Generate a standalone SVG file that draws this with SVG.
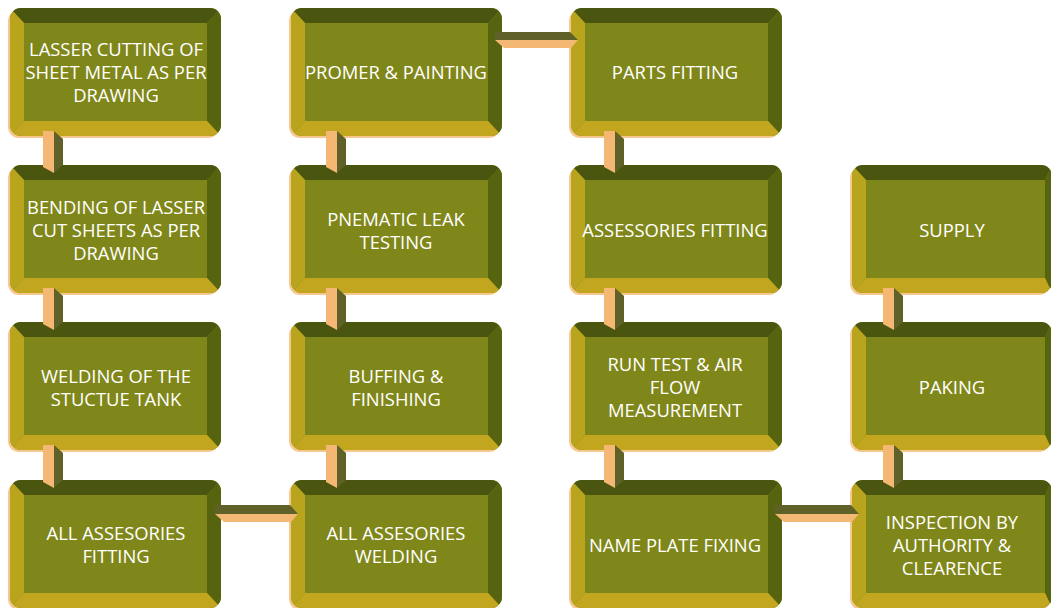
<svg xmlns="http://www.w3.org/2000/svg" xmlns:xlink="http://www.w3.org/1999/xlink" width="1051" height="608" viewBox="0 0 1051 608">
<defs>
<style>
.t{font-family:"Open Sans","Liberation Sans",Arial,sans-serif;font-size:18.4px;fill:#ffffff;text-anchor:middle}
.pe{fill:#f4b874}
.dk{fill:#5f6128}
</style>
<clipPath id="cp"><rect x="0" y="0" width="211" height="128" rx="11"/></clipPath>
<clipPath id="cp4"><rect x="0" y="0" width="200" height="128" rx="11"/></clipPath>
<g id="box">
<rect x="-2" y="2" width="211" height="128" rx="11" fill="#f6c890"/>
<g clip-path="url(#cp)">
<rect x="0" y="0" width="211" height="128" fill="#80871a"/>
<polygon points="0,0 211,0 197,15 14,15" fill="#4a560f"/>
<polygon points="211,0 211,128 197,113 197,15" fill="#56640f"/>
<polygon points="0,128 211,128 197,113 14,113" fill="#c3a61f"/>
<polygon points="0,0 14,15 14,113 0,128" fill="#b9a51d"/>
<rect x="14" y="15" width="183" height="98" fill="#80871a"/>
</g>
</g>
<g id="box4">
<rect x="-2" y="2" width="200" height="128" rx="11" fill="#f6c890"/>
<g clip-path="url(#cp4)">
<rect x="0" y="0" width="200" height="128" fill="#80871a"/>
<polygon points="0,0 200,0 193,15 14,15" fill="#4a560f"/>
<polygon points="200,0 200,128 193,113 193,15" fill="#56640f"/>
<polygon points="0,128 200,128 193,113 14,113" fill="#c3a61f"/>
<polygon points="0,0 14,15 14,113 0,128" fill="#b9a51d"/>
<rect x="14" y="15" width="179" height="98" fill="#80871a"/>
</g>
</g>
</defs>
<rect width="1051" height="608" fill="#ffffff"/>

<g id="n1"><use xlink:href="#box" x="10" y="8"/><text class="t"><tspan x="116" y="56">LASSER CUTTING OF</tspan><tspan x="116" y="79">SHEET METAL AS PER</tspan><tspan x="116" y="102">DRAWING</tspan></text></g>
<g id="n2"><use xlink:href="#box" x="10" y="165"/><text class="t"><tspan x="116" y="214">BENDING OF LASSER</tspan><tspan x="116" y="237">CUT SHEETS AS PER</tspan><tspan x="116" y="260">DRAWING</tspan></text></g>
<g id="n3"><use xlink:href="#box" x="10" y="322"/><text class="t"><tspan x="116" y="383">WELDING OF THE</tspan><tspan x="116" y="406">STUCTUE TANK</tspan></text></g>
<g id="n4"><use xlink:href="#box" x="10" y="480"/><text class="t"><tspan x="116" y="540">ALL ASSESORIES</tspan><tspan x="116" y="563">FITTING</tspan></text></g>

<g id="n5"><use xlink:href="#box" x="291" y="480"/><text class="t"><tspan x="396" y="540">ALL ASSESORIES</tspan><tspan x="396" y="563">WELDING</tspan></text></g>
<g id="n6"><use xlink:href="#box" x="291" y="322"/><text class="t"><tspan x="396" y="383">BUFFING &amp;</tspan><tspan x="396" y="406">FINISHING</tspan></text></g>
<g id="n7"><use xlink:href="#box" x="291" y="165"/><text class="t"><tspan x="396" y="226">PNEMATIC LEAK</tspan><tspan x="396" y="249">TESTING</tspan></text></g>
<g id="n8"><use xlink:href="#box" x="291" y="8"/><text class="t" x="396" y="79">PROMER &amp; PAINTING</text></g>

<g id="n9"><use xlink:href="#box" x="571" y="8"/><text class="t" x="675" y="79">PARTS FITTING</text></g>
<g id="n10"><use xlink:href="#box" x="571" y="165"/><text class="t" x="675" y="237">ASSESSORIES FITTING</text></g>
<g id="n11"><use xlink:href="#box" x="571" y="322"/><text class="t"><tspan x="675" y="371">RUN TEST &amp; AIR</tspan><tspan x="675" y="394">FLOW</tspan><tspan x="675" y="417">MEASUREMENT</tspan></text></g>
<g id="n12"><use xlink:href="#box" x="571" y="480"/><text class="t" x="675" y="552">NAME PLATE FIXING</text></g>

<g id="n13"><use xlink:href="#box4" x="852" y="480"/><text class="t"><tspan x="952" y="529">INSPECTION BY</tspan><tspan x="952" y="552">AUTHORITY &amp;</tspan><tspan x="952" y="575">CLEARENCE</tspan></text></g>
<g id="n14"><use xlink:href="#box4" x="852" y="322"/><text class="t" x="952" y="394">PAKING</text></g>
<g id="n15"><use xlink:href="#box4" x="852" y="165"/><text class="t" x="952" y="237">SUPPLY</text></g>

<g id="connectors">
<g transform="translate(43,0)">
<rect class="pe" x="0" y="131" width="11" height="36"/><polygon class="pe" points="0,167 11,167 11,173"/>
<polygon class="dk" points="11,131 20,139 20,165 11,173"/>
<rect class="pe" x="0" y="288" width="11" height="36"/><polygon class="pe" points="0,324 11,324 11,330"/>
<polygon class="dk" points="11,288 20,296 20,322 11,330"/>
<rect class="pe" x="0" y="445" width="11" height="37"/><polygon class="pe" points="0,482 11,482 11,488"/>
<polygon class="dk" points="11,445 20,453 20,480 11,488"/>
</g>
<g transform="translate(326,0)">
<rect class="pe" x="0" y="131" width="11" height="36"/><polygon class="pe" points="0,167 11,167 11,173"/>
<polygon class="dk" points="11,131 20,139 20,165 11,173"/>
<rect class="pe" x="0" y="288" width="11" height="36"/><polygon class="pe" points="0,324 11,324 11,330"/>
<polygon class="dk" points="11,288 20,296 20,322 11,330"/>
<rect class="pe" x="0" y="445" width="11" height="37"/><polygon class="pe" points="0,482 11,482 11,488"/>
<polygon class="dk" points="11,445 20,453 20,480 11,488"/>
</g>
<g transform="translate(604,0)">
<rect class="pe" x="0" y="131" width="11" height="36"/><polygon class="pe" points="0,167 11,167 11,173"/>
<polygon class="dk" points="11,131 20,139 20,165 11,173"/>
<rect class="pe" x="0" y="288" width="11" height="36"/><polygon class="pe" points="0,324 11,324 11,330"/>
<polygon class="dk" points="11,288 20,296 20,322 11,330"/>
<rect class="pe" x="0" y="445" width="11" height="37"/><polygon class="pe" points="0,482 11,482 11,488"/>
<polygon class="dk" points="11,445 20,453 20,480 11,488"/>
</g>
<g transform="translate(883,0)">
<rect class="pe" x="0" y="288" width="11" height="36"/><polygon class="pe" points="0,324 11,324 11,330"/>
<polygon class="dk" points="11,288 20,296 20,322 11,330"/>
<rect class="pe" x="0" y="445" width="11" height="37"/><polygon class="pe" points="0,482 11,482 11,488"/>
<polygon class="dk" points="11,445 20,453 20,480 11,488"/>
</g>
<polygon class="dk" points="215,505 290,505 298,514 215,514"/>
<polygon class="pe" points="215,514 298,514 291,522 224,522"/>
<polygon class="dk" points="495,32 570,32 578,40 495,40"/>
<polygon class="pe" points="495,40 578,40 571,48 504,48"/>
<polygon class="dk" points="775,505 851,505 859,514 775,514"/>
<polygon class="pe" points="775,514 859,514 852,522 784,522"/>
</g>
</svg>
